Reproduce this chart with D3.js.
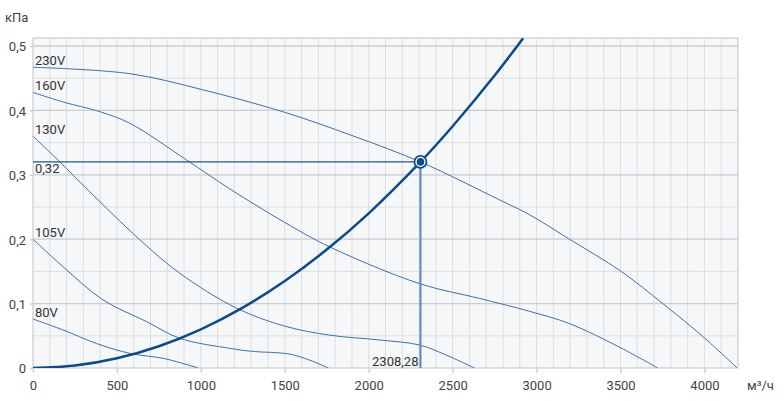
<!DOCTYPE html>
<html><head><meta charset="utf-8">
<script src="https://cdn.jsdelivr.net/npm/d3@7"></script>
<style>body{margin:0;background:#fff}svg{display:block;font-family:Roboto,"Noto Sans",sans-serif}</style>
</head><body><svg id="c" width="784" height="401"></svg>
<script>
const xTicks = [0,500,1000,1500,2000,2500,3000,3500,4000];
const yTicks = [0,0.1,0.2,0.3,0.4,0.5];
const yTickLabels = ["0","0,1","0,2","0,3","0,4","0,5"];
const xUnit = "м³/ч";
const yUnit = "кПа";
const curveNames = ["230V","160V","130V","105V","80V"];
const v230 = [[0,0.467],[577,0.457],[1012,0.432],[1500,0.397],[1900,0.361],[2308,0.320],[2780,0.261],[2958,0.238],[3196,0.200],[3504,0.150],[3752,0.100],[3990,0.049],[4195,0]];
const v160 = [[0,0.428],[180,0.413],[399,0.398],[577,0.380],[915,0.323],[1173,0.278],[1500,0.226],[1768,0.188],[2303,0.131],[2661,0.108],[2958,0.088],[3196,0.069],[3504,0.031],[3722,0]];
const v130 = [[0,0.360],[160,0.320],[329,0.276],[637,0.199],[875,0.147],[1212,0.093],[1500,0.065],[1768,0.051],[2065,0.0435],[2303,0.0357],[2462,0.020],[2630,0]];
const v105 = [[0,0.200],[180,0.157],[418,0.1056],[677,0.072],[875,0.046],[1173,0.0305],[1300,0.026],[1530,0.0215],[1650,0.012],[1760,0]];
const v80 = [[0,0.076],[180,0.059],[379,0.038],[577,0.0227],[776,0.015],[880,0.008],[985,0]];
const systemCurve = [[0,0],[250,0.00375],[500,0.0150],[750,0.0338],[1000,0.0601],[1250,0.0938],[1500,0.1351],[1750,0.1839],[2000,0.2402],[2308.28,0.32],[2500,0.3754],[2750,0.4541],[2920,0.5121]];
const opX = 2308.28, opY = 0.32;
const opXLabel = "2308,28", opYLabel = "0,32";

const svg = d3.select("#c");
const L=33, R=738, T=38, B=368;
const x = d3.scaleLinear().domain([0,4200]).range([L,R]);
const y = d3.scaleLinear().domain([0,(B-T)/644]).range([B,T]);

svg.append("rect").attr("x",L).attr("y",T).attr("width",R-L).attr("height",B-T).attr("fill","#f5f7f9");
const g = svg.append("g");
d3.range(100,4200,100).forEach(v=>{
  g.append("line").attr("x1",x(v)).attr("x2",x(v)).attr("y1",T).attr("y2",B)
   .attr("stroke","#dcdee1").attr("stroke-width",1);
});
d3.range(1,11).forEach(i=>{
  const v=i*0.05;
  g.append("line").attr("x1",L).attr("x2",R).attr("y1",y(v)).attr("y2",y(v))
   .attr("stroke", i%2===0 ? "#c9ccd1" : "#dcdee1").attr("stroke-width", i%2===0?1.3:1);
});
svg.append("rect").attr("x",L).attr("y",T).attr("width",R-L).attr("height",B-T)
  .attr("fill","none").attr("stroke","#d2d5d9").attr("stroke-width",1.5);

const xa = svg.append("g").attr("transform",`translate(0,${B})`)
  .call(d3.axisBottom(x).tickValues(xTicks).tickSize(5).tickPadding(8).tickFormat(d3.format("d")));
const ya = svg.append("g").attr("transform",`translate(${L},0)`)
  .call(d3.axisLeft(y).tickValues(yTicks).tickSize(3).tickPadding(4).tickFormat((d,i)=>yTickLabels[i]));
[xa,ya].forEach(a=>{
  a.select(".domain").remove();
  a.selectAll("line").attr("stroke","#cfd2d6").attr("stroke-width",1.5);
  a.selectAll("text").attr("fill","#444").attr("font-size",13).attr("font-family",'Roboto,"Noto Sans",sans-serif');
});
ya.selectAll("text").attr("dy","0.38em");
svg.append("text").attr("x",5).attr("y",22).attr("font-size",13).attr("fill","#444").text(yUnit);
svg.append("text").attr("x",747).attr("y",390).attr("font-size",13).attr("fill","#444").text(xUnit);

svg.append("clipPath").attr("id","pc").append("rect").attr("x",L).attr("y",T).attr("width",R-L).attr("height",B-T);
const line = d3.line().x(d=>x(d[0])).y(d=>y(d[1])).curve(d3.curveCatmullRom.alpha(0.5));
const series=[v230,v160,v130,v105,v80];
const pg = svg.append("g").attr("clip-path","url(#pc)");
series.forEach((s,i)=>{
  pg.append("path").attr("d",line(s)).attr("fill","none").attr("stroke","#3f6fa8").attr("stroke-width",1);
});
pg.append("path").attr("d",line(systemCurve)).attr("fill","none").attr("stroke","#0b4a8b").attr("stroke-width",2.5);
svg.append("line").attr("x1",x(0)).attr("x2",x(opX)).attr("y1",y(opY)).attr("y2",y(opY))
  .attr("stroke","#24538e").attr("stroke-width",1.3);
svg.append("line").attr("x1",x(opX)).attr("x2",x(opX)).attr("y1",y(opY)).attr("y2",y(0))
  .attr("stroke","#5b86bb").attr("stroke-width",2);
svg.append("circle").attr("cx",x(opX)).attr("cy",y(opY)).attr("r",6).attr("fill","#ffffff").attr("stroke","#0e4c8e").attr("stroke-width",1.8);
svg.append("circle").attr("cx",x(opX)).attr("cy",y(opY)).attr("r",3.8).attr("fill","#0e4c8e");
series.forEach((s,i)=>{
  svg.append("text").attr("x",x(0)+2).attr("y",y(s[0][1])-2).attr("font-size",13).attr("fill","#333").text(curveNames[i]);
});
svg.append("text").attr("x",x(0)+2).attr("y",y(opY)+11).attr("font-size",13).attr("fill","#333").text(opYLabel);
svg.append("text").attr("x",x(opX)-2).attr("y",B-2).attr("text-anchor","end").attr("font-size",13).attr("fill","#333").text(opXLabel);
</script></body></html>
